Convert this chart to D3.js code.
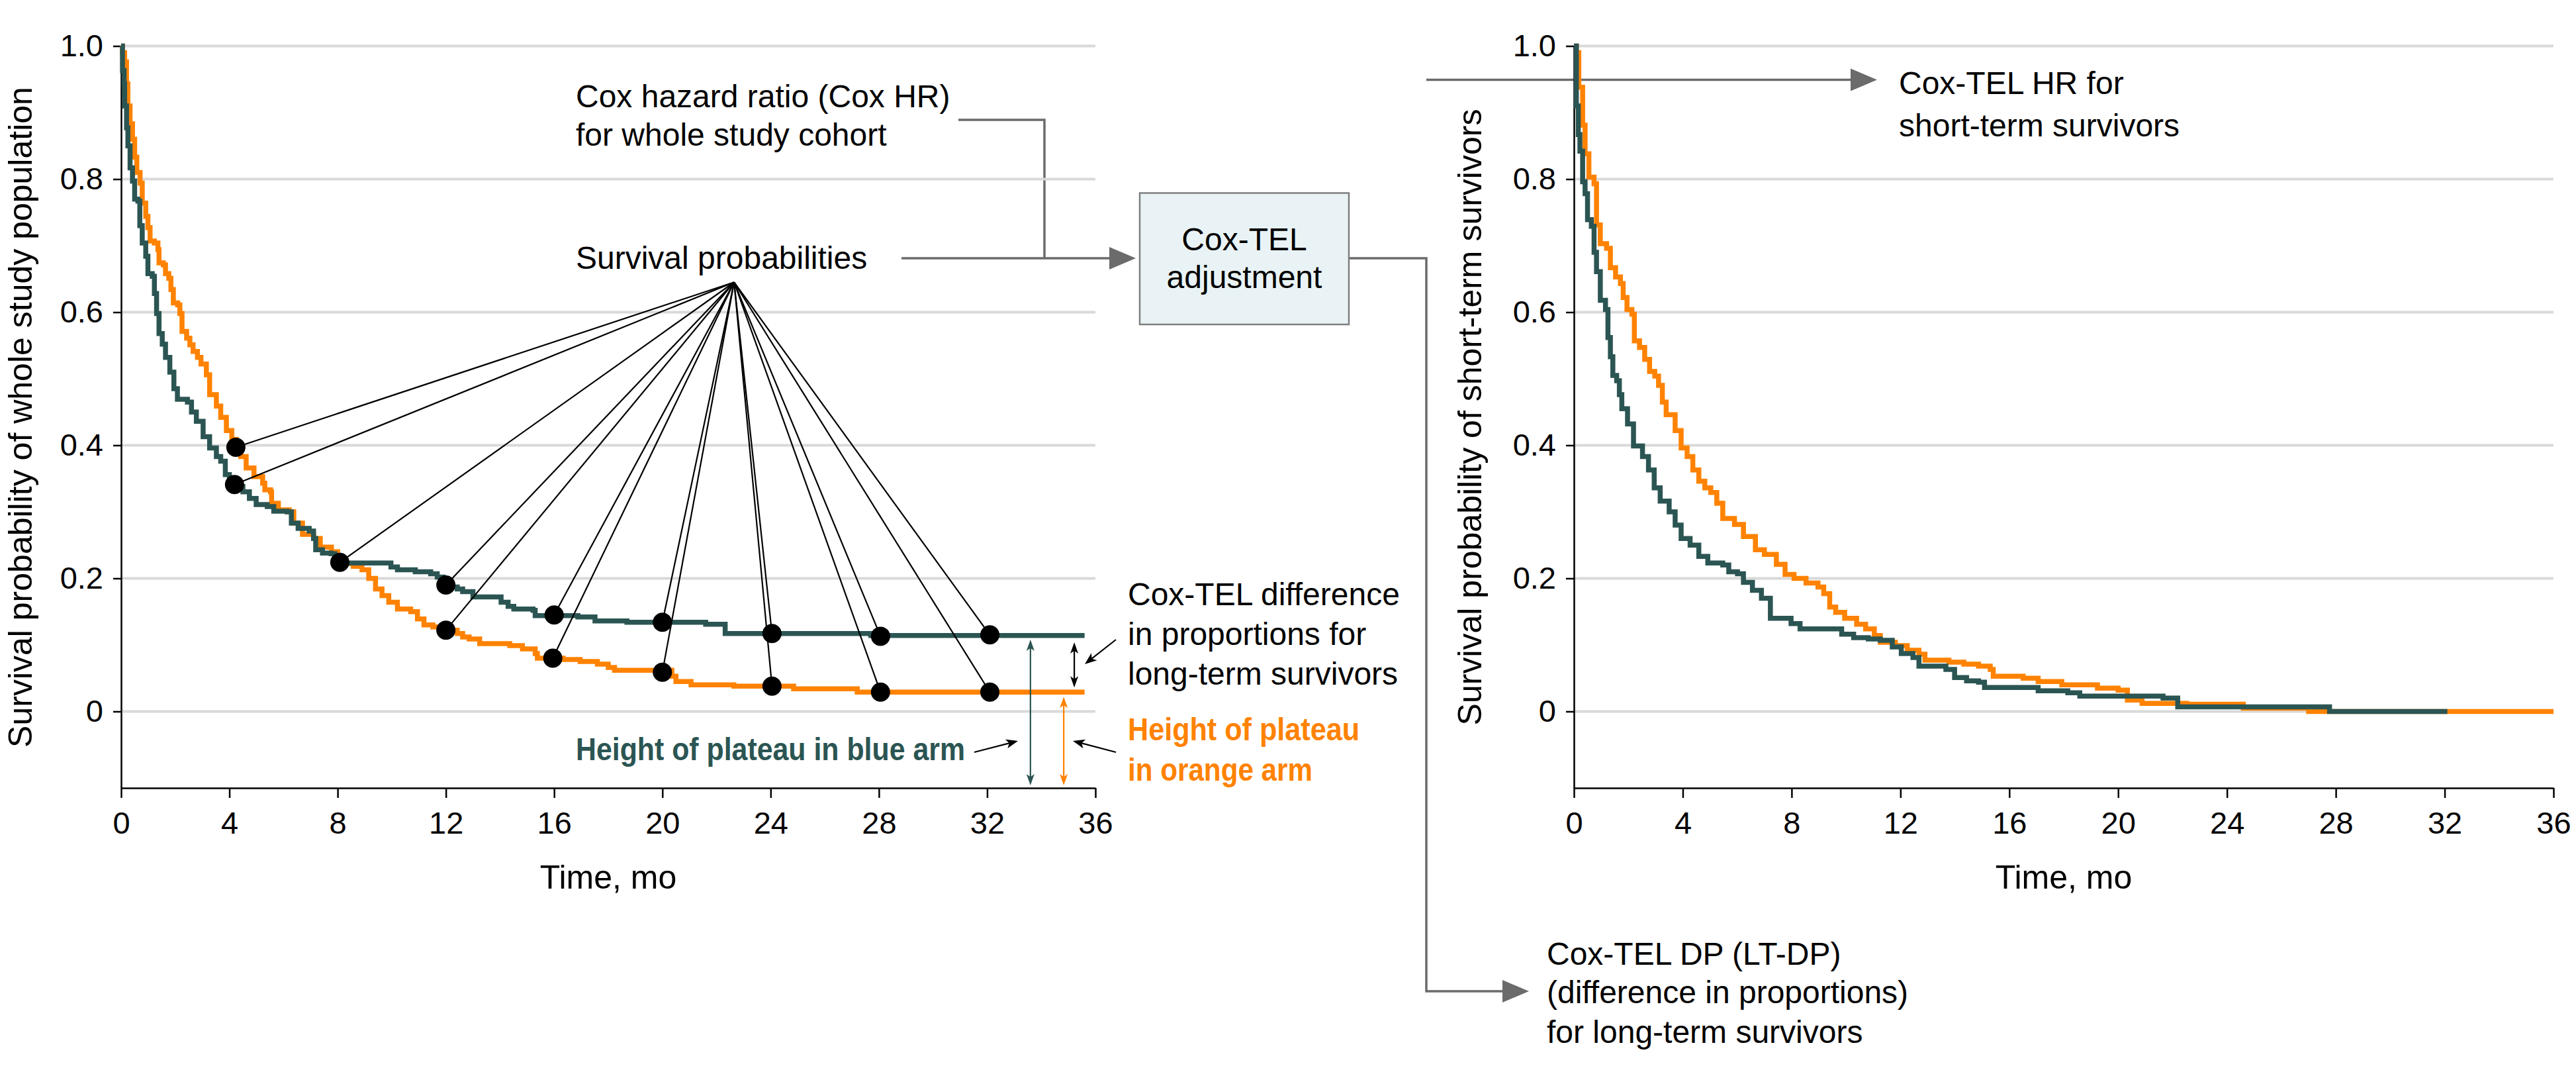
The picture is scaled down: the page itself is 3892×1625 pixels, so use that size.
<!DOCTYPE html>
<html><head><meta charset="utf-8">
<script src="https://cdn.jsdelivr.net/npm/d3@7"></script>
<style>
body{margin:0;background:#fff}
svg{display:block}
text{font-family:"Liberation Sans",Arial,sans-serif;fill:#000}
</style>
</head><body>
<svg id="c" width="3892" height="1625"></svg>
<script>
// ---------- data ----------
const xTicks = [0, 4, 8, 12, 16, 20, 24, 28, 32, 36];
const yTicks = [0, 0.2, 0.4, 0.6, 0.8, 1.0];
const yTickLabels = ["0", "0.2", "0.4", "0.6", "0.8", "1.0"];

// Whole study population (left panel), [month, survival]
const wholeBlue = [[0,1.0],[0.05,0.963],[0.11,0.943],[0.13,0.91],[0.2,0.877],[0.25,0.85],[0.33,0.817],[0.42,0.797],[0.5,0.77],[0.62,0.767],[0.69,0.73],[0.78,0.704],[0.91,0.684],[0.99,0.658],[1.15,0.654],[1.23,0.628],[1.31,0.598],[1.4,0.568],[1.52,0.552],[1.64,0.532],[1.8,0.51],[1.95,0.485],[2.08,0.469],[2.45,0.465],[2.6,0.45],[2.78,0.436],[3.03,0.413],[3.27,0.396],[3.52,0.383],[3.68,0.376],[3.85,0.356],[4.0,0.345],[4.3,0.338],[4.5,0.33],[4.74,0.32],[4.99,0.311],[5.4,0.308],[5.64,0.301],[6.13,0.3],[6.29,0.283],[6.54,0.275],[6.95,0.271],[7.11,0.26],[7.19,0.243],[7.44,0.238],[7.76,0.237],[7.9,0.228],[8.1,0.223],[9.8,0.223],[9.97,0.217],[10.21,0.213],[10.87,0.21],[11.44,0.207],[11.68,0.202],[11.9,0.193],[12.1,0.187],[12.42,0.184],[12.62,0.18],[13.0,0.172],[13.88,0.172],[14.04,0.164],[14.3,0.158],[14.51,0.154],[15.22,0.152],[15.3,0.144],[16.88,0.142],[17.51,0.136],[18.69,0.134],[21.6,0.131],[22.32,0.117],[27.7,0.114],[35.6,0.114]];
const wholeOrange = [[0,1.0],[0.05,0.99],[0.13,0.976],[0.2,0.943],[0.25,0.91],[0.33,0.883],[0.42,0.86],[0.5,0.833],[0.58,0.81],[0.7,0.794],[0.78,0.764],[0.91,0.744],[0.99,0.727],[1.07,0.707],[1.23,0.704],[1.36,0.694],[1.4,0.674],[1.56,0.671],[1.64,0.658],[1.76,0.651],[1.84,0.634],[1.93,0.614],[2.09,0.611],[2.17,0.598],[2.25,0.571],[2.42,0.561],[2.54,0.551],[2.66,0.541],[2.82,0.532],[2.95,0.522],[3.15,0.506],[3.27,0.476],[3.52,0.459],[3.68,0.442],[3.89,0.422],[4.09,0.409],[4.25,0.397],[4.42,0.383],[4.62,0.366],[4.91,0.353],[5.23,0.343],[5.31,0.333],[5.52,0.33],[5.56,0.313],[5.81,0.303],[6.21,0.3],[6.38,0.283],[6.7,0.266],[7.11,0.26],[7.36,0.247],[7.77,0.24],[8.0,0.228],[8.3,0.222],[8.58,0.218],[8.9,0.213],[9.15,0.2],[9.4,0.184],[9.64,0.174],[9.89,0.164],[10.21,0.154],[10.7,0.15],[10.95,0.139],[11.19,0.13],[11.52,0.127],[11.9,0.122],[12.42,0.117],[12.62,0.112],[12.86,0.109],[13.25,0.102],[14.36,0.099],[14.83,0.094],[15.3,0.087],[15.38,0.08],[16.33,0.078],[16.96,0.075],[17.6,0.071],[18.0,0.066],[18.23,0.062],[20.35,0.053],[20.5,0.045],[21.06,0.04],[22.64,0.038],[24.85,0.034],[27.2,0.029],[35.6,0.029]];

// Short-term survivors (right panel)
const shortBlue = [[0,1.0],[0.09,0.91],[0.16,0.867],[0.22,0.842],[0.32,0.796],[0.41,0.778],[0.5,0.739],[0.64,0.729],[0.74,0.69],[0.83,0.661],[0.97,0.618],[1.16,0.604],[1.25,0.562],[1.34,0.533],[1.43,0.505],[1.57,0.497],[1.67,0.476],[1.76,0.455],[1.97,0.432],[2.19,0.399],[2.52,0.383],[2.74,0.363],[2.95,0.336],[3.17,0.316],[3.5,0.3],[3.72,0.28],[3.94,0.26],[4.27,0.25],[4.59,0.233],[4.92,0.223],[5.47,0.22],[5.69,0.21],[6.01,0.207],[6.23,0.194],[6.56,0.182],[6.89,0.17],[7.22,0.14],[7.98,0.132],[8.31,0.124],[9.84,0.116],[10.28,0.111],[10.82,0.109],[11.26,0.107],[11.7,0.097],[12.03,0.087],[12.46,0.081],[12.68,0.068],[13.67,0.063],[13.99,0.051],[14.43,0.046],[14.87,0.044],[15.09,0.036],[17.06,0.031],[18.15,0.028],[18.59,0.023],[21.65,0.02],[22.19,0.007],[27.77,0],[32.1,0]];
const shortOrange = [[0,1.0],[0.09,0.99],[0.18,0.938],[0.32,0.881],[0.41,0.838],[0.55,0.803],[0.74,0.793],[0.83,0.731],[0.97,0.703],[1.2,0.696],[1.34,0.667],[1.53,0.653],[1.71,0.643],[1.81,0.622],[1.95,0.604],[2.13,0.597],[2.22,0.557],[2.41,0.547],[2.6,0.529],[2.78,0.511],[2.97,0.504],[3.11,0.49],[3.25,0.465],[3.39,0.446],[3.72,0.422],[3.94,0.396],[4.16,0.383],[4.37,0.363],[4.59,0.346],[4.81,0.336],[5.03,0.329],[5.25,0.313],[5.47,0.29],[5.9,0.281],[6.23,0.263],[6.67,0.243],[7.0,0.236],[7.44,0.221],[7.76,0.206],[8.09,0.2],[8.53,0.193],[8.97,0.187],[9.18,0.177],[9.4,0.157],[9.62,0.149],[9.95,0.14],[10.39,0.131],[10.72,0.124],[11.04,0.114],[11.26,0.104],[11.81,0.099],[12.25,0.092],[12.68,0.086],[12.9,0.077],[13.78,0.074],[14.33,0.071],[14.87,0.068],[15.3,0.063],[15.41,0.053],[16.51,0.05],[17.06,0.045],[17.93,0.04],[19.24,0.035],[20.0,0.032],[20.34,0.017],[20.88,0.012],[22.52,0.011],[24.6,0.005],[27.0,0],[36,0]];

// Highlighted survival probabilities (left panel)
const probDots = [[4.24,0.397],[4.19,0.341],[8.08,0.224],[12.0,0.19],[12.0,0.122],[16.0,0.145],[15.95,0.080],[20.0,0.134],[20.0,0.059],[24.05,0.117],[24.05,0.038],[28.06,0.113],[28.06,0.029],[32.1,0.115],[32.1,0.029]];
const fanApex = [22.65, 0.645];
const blueArmPlateau = 0.114, orangeArmPlateau = 0.029;

// ---------- setup ----------
const svg = d3.select("#c");
const TEAL = "#2b5553", ORANGE = "#ff8200", GRAY = "#6b6b6b";
const xL = d3.scaleLinear().domain([0, 36]).range([183, 1655]);
const xR = d3.scaleLinear().domain([0, 36]).range([2378, 3858]);
const y = d3.scaleLinear().domain([-0.115, 1]).range([1190, 69.5]);

function panel(x, titleX, title) {
  const g = svg.append("g");
  g.selectAll("line.grid").data(yTicks).join("line")
    .attr("x1", x(0)).attr("x2", x(36))
    .attr("y1", d => y(d)).attr("y2", d => y(d))
    .attr("stroke", "#d9d9d9").attr("stroke-width", 4);
  const ax = g.append("g").attr("transform", `translate(0,${y.range()[0]})`)
    .call(d3.axisBottom(x).tickValues(xTicks).tickSize(15).tickSizeOuter(0).tickPadding(21).tickFormat(d3.format("d")));
  const ay = g.append("g").attr("transform", `translate(${x(0)},0)`)
    .call(d3.axisLeft(y).tickValues(yTicks).tickSize(12).tickSizeOuter(0).tickPadding(15)
      .tickFormat((d, i) => yTickLabels[i]));
  [ax, ay].forEach(a => {
    a.select(".domain").attr("stroke", "#000").attr("stroke-width", 2.5);
    a.selectAll(".tick line").attr("stroke", "#000").attr("stroke-width", 2.5);
    a.selectAll(".tick text").attr("font-size", 47).attr("fill", "#000")
      .attr("font-family", '"Liberation Sans",Arial,sans-serif');
  });
  g.append("text").attr("x", (x(0) + x(36)) / 2).attr("y", 1342)
    .attr("text-anchor", "middle").attr("font-size", 50).text("Time, mo");
  g.append("text").attr("transform", `translate(${titleX},630) rotate(-90)`)
    .attr("text-anchor", "middle").attr("font-size", 50).text(title);
  return g;
}

function curves(g, x, orange, blue) {
  const line = d3.line().x(d => x(d[0])).y(d => y(d[1])).curve(d3.curveStepAfter);
  g.append("path").datum(orange).attr("d", line).attr("fill", "none")
    .attr("stroke", ORANGE).attr("stroke-width", 7.5);
  g.append("path").datum(blue).attr("d", line).attr("fill", "none")
    .attr("stroke", TEAL).attr("stroke-width", 7.5);
}

function head(g, x1, y1, x2, y2, len, hw, color, notch) {
  const a = Math.atan2(y2 - y1, x2 - x1), c = Math.cos(a), s = Math.sin(a);
  const bx = x2 - len * c, by = y2 - len * s;
  const pts = [[x2, y2], [bx - hw * s, by + hw * c]];
  if (notch) pts.push([x2 - len * (1 - notch) * c, y2 - len * (1 - notch) * s]);
  pts.push([bx + hw * s, by - hw * c]);
  g.append("polygon").attr("points", pts.map(p => p.join(",")).join(" ")).attr("fill", color);
}
function arrow(g, x1, y1, x2, y2, color, w, len, hw, notch) {
  const a = Math.atan2(y2 - y1, x2 - x1);
  g.append("line").attr("x1", x1).attr("y1", y1)
    .attr("x2", x2 - (len * 0.7) * Math.cos(a)).attr("y2", y2 - (len * 0.7) * Math.sin(a))
    .attr("stroke", color).attr("stroke-width", w);
  head(g, x1, y1, x2, y2, len, hw, color, notch);
}

// ---------- connectors (diagram) ----------
const conn = svg.append("g").attr("fill", "none").attr("stroke", GRAY).attr("stroke-width", 3.5);
conn.append("path").attr("d", "M1448,181H1578V390");
conn.append("path").attr("d", "M1362,390H1690");
conn.append("path").attr("d", "M2038,390H2155V1497H2285");
conn.append("path").attr("d", "M2155,120.5H2810");
const heads = svg.append("g");
head(heads, 1600, 390, 1716, 390, 40, 17, GRAY);
head(heads, 2700, 120.5, 2836, 120.5, 40, 17, GRAY);
head(heads, 2200, 1497, 2310, 1497, 40, 17, GRAY);

svg.append("rect").attr("x", 1722).attr("y", 291.5).attr("width", 316).attr("height", 198.5)
  .attr("fill", "#e9f3f5").attr("stroke", "#7f7f7f").attr("stroke-width", 2.5);

// ---------- panels ----------
const gl = panel(xL, 48, "Survival probability of whole study population");
const gr = panel(xR, 2238, "Survival probability of short-term survivors");
curves(gl, xL, wholeOrange, wholeBlue);
curves(gr, xR, shortOrange, shortBlue);

// fan lines + dots
const fan = svg.append("g");
fan.selectAll("line").data(probDots).join("line")
  .attr("x1", xL(fanApex[0])).attr("y1", y(fanApex[1]))
  .attr("x2", d => xL(d[0])).attr("y2", d => y(d[1]))
  .attr("stroke", "#000").attr("stroke-width", 2.2);
fan.selectAll("circle").data(probDots).join("circle")
  .attr("cx", d => xL(d[0])).attr("cy", d => y(d[1])).attr("r", 14.5).attr("fill", "#000");

// plateau double arrows
const ann = svg.append("g");
function dbl(m, v1, v2, color) {
  const X = xL(m), Y1 = y(v1), Y2 = y(v2);
  ann.append("line").attr("x1", X).attr("x2", X).attr("y1", Y1 + 10).attr("y2", Y2 - 10)
    .attr("stroke", color).attr("stroke-width", 2.2);
  head(ann, X, Y2, X, Y1, 17, 6, color, 0.25);
  head(ann, X, Y1, X, Y2, 17, 6, color, 0.25);
}
dbl(33.6, blueArmPlateau - 0.006, -0.111, TEAL);
dbl(34.83, orangeArmPlateau - 0.007, -0.111, ORANGE);
dbl(35.22, blueArmPlateau - 0.01, orangeArmPlateau + 0.007, "#000");

// pointer arrows
arrow(ann, 1686, 966, 1639, 1003, "#000", 2.2, 18, 7, 0.25);
arrow(ann, 1472, 1136, 1538, 1119, "#000", 2.2, 18, 7, 0.25);
arrow(ann, 1686, 1136, 1621, 1119, "#000", 2.2, 18, 7, 0.25);

// ---------- texts ----------
const T = svg.append("g").attr("font-size", 48);
function txt(x, yy, s, opts = {}) {
  const t = T.append("text").attr("x", x).attr("y", yy).text(s);
  if (opts.anchor) t.attr("text-anchor", opts.anchor);
  if (opts.fill) t.style("fill", opts.fill);
  if (opts.bold) t.attr("font-weight", "bold");
  if (opts.len) t.attr("textLength", opts.len).attr("lengthAdjust", "spacingAndGlyphs");
  return t;
}
txt(870, 161.6, "Cox hazard ratio (Cox HR)");
txt(870, 219.6, "for whole study cohort");
txt(870, 406, "Survival probabilities");
txt(1880, 378, "Cox-TEL", {anchor: "middle"});
txt(1880, 435, "adjustment", {anchor: "middle"});
txt(2869, 142, "Cox-TEL HR for");
txt(2869, 206, "short-term survivors");
txt(1704, 914, "Cox-TEL difference");
txt(1704, 974, "in proportions for");
txt(1704, 1034, "long-term survivors");
txt(1704, 1118, "Height of plateau", {fill: ORANGE, bold: true, len: 350});
txt(1704, 1179, "in orange arm", {fill: ORANGE, bold: true, len: 279});
txt(870, 1148, "Height of plateau in blue arm", {fill: TEAL, bold: true, len: 588});
txt(2337, 1457, "Cox-TEL DP (LT-DP)");
txt(2337, 1515, "(difference in proportions)");
txt(2337, 1575, "for long-term survivors");
</script>
</body></html>
